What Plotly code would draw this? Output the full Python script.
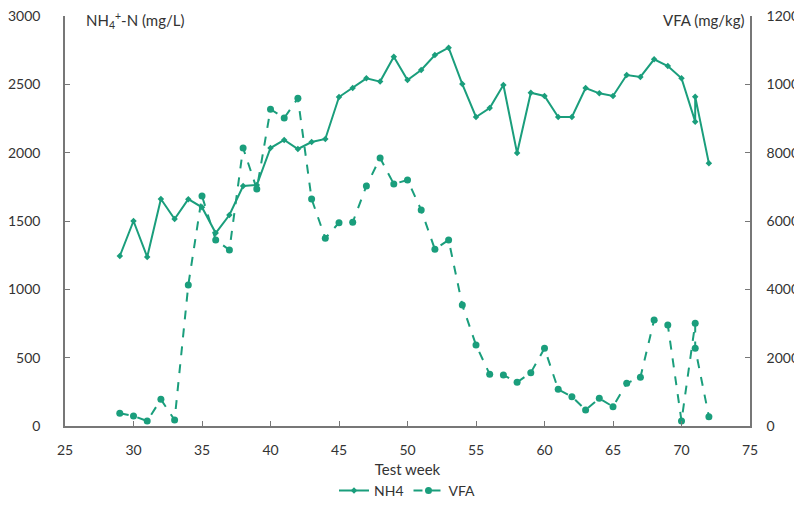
import plotly.graph_objects as go

weeks = [29, 30, 31, 32, 33, 34, 35, 36, 37, 38, 39, 40, 41, 42, 43, 44, 45, 46, 47, 48,
         49, 50, 51, 52, 53, 54, 55, 56, 57, 58, 59, 60, 61, 62, 63, 64, 65, 66, 67, 68,
         69, 70, 71, 71, 72]
nh4 = [1244, 1500, 1237, 1661, 1515, 1660, 1600, 1412, 1544, 1756, 1763, 2034, 2093, 2027, 2078, 2100,
       2407, 2473, 2544, 2520, 2702, 2532, 2605, 2714, 2768, 2502, 2261, 2327, 2495, 1997,
       2439, 2415, 2261, 2261, 2473, 2434, 2415, 2568, 2554, 2683, 2634, 2544, 2227, 2410, 1922]
vfa = [371, 293, 146, 780, 176, 4127, 6732, 5444, 5152, 8138, 6937, 9270, 9015, 9591, 6644, 5493,
       5952, 5962, 7025, 7845, 7084, 7201, 6322, 5171, 5445, 3542, 2371, 1513, 1493, 1279,
       1561, 2273, 1073, 859, 468, 810, 566, 1249, 1425, 3103, 2956, 146, 3005, 2273, 273]

color = "#1a9e7c"
font = "Lato, Open Sans, sans-serif"

fig = go.Figure()
fig.add_trace(go.Scatter(x=weeks, y=nh4, name="NH4", mode="lines+markers",
                         line=dict(color=color, width=2),
                         marker=dict(symbol="diamond", size=5, color=color)))
fig.add_trace(go.Scatter(x=weeks, y=vfa, name="VFA", mode="lines+markers", yaxis="y2",
                         line=dict(color=color, width=2, dash="dash"),
                         marker=dict(symbol="circle", size=7, color=color)))

fig.update_layout(
    width=794, height=512,
    margin=dict(l=65, r=44, t=16, b=86, autoexpand=False),
    paper_bgcolor="white", plot_bgcolor="white",
    font=dict(family=font, size=14, color="#333333"),
    xaxis=dict(range=[25, 75], dtick=5, tick0=25, showline=True, linecolor="#777777", linewidth=1.5,
               ticks="inside", ticklen=5, tickcolor="#777777", showgrid=False, zeroline=False,
               ticklabelstandoff=10, automargin=False,
               title=dict(text="Test week", font=dict(size=15, color="#333333"), standoff=8)),
    yaxis=dict(range=[0, 3000], dtick=500, showline=True, linecolor="#777777", linewidth=1.5,
               ticks="inside", ticklen=5, tickcolor="#777777", showgrid=False, zeroline=False,
               ticklabelstandoff=20, automargin=False),
    yaxis2=dict(range=[0, 12000], dtick=2000, overlaying="y", side="right", showline=True,
                linecolor="#777777", linewidth=1.5, ticks="inside", ticklen=5, tickcolor="#777777",
                showgrid=False, zeroline=False, ticklabelstandoff=12, tickformat="d",
                automargin=False),
    legend=dict(orientation="h", x=0.5, xanchor="center", y=-0.158, yanchor="middle",
                font=dict(size=14, color="#333333"), itemwidth=30, tracegroupgap=0),
    showlegend=True,
)

fig.add_annotation(text="NH<sub>4</sub><sup>+</sup>-N (mg/L)", xref="paper", yref="paper",
                   x=0.028, y=0.99, xanchor="left", yanchor="middle", showarrow=False,
                   font=dict(size=15, color="#333333"))
fig.add_annotation(text="VFA (mg/kg)", xref="paper", yref="paper",
                   x=0.995, y=0.99, xanchor="right", yanchor="middle", showarrow=False,
                   font=dict(size=15, color="#333333"))

fig.write_html("out.html")
